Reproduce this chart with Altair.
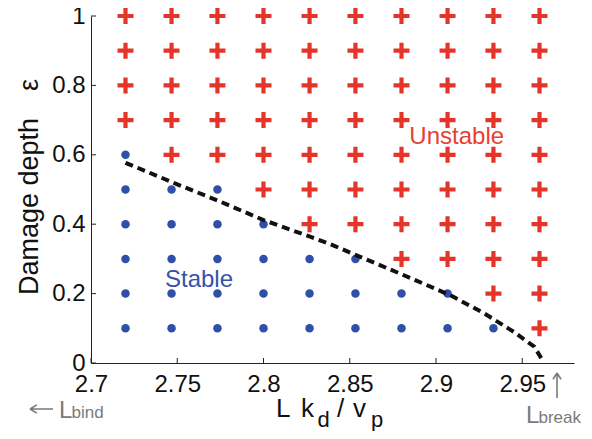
import altair as alt
import pandas as pd

# ---- data ----
col_x = [2.72, 2.7467, 2.7733, 2.80, 2.8267, 2.8533, 2.88, 2.9067, 2.9333, 2.96]
row_eps = [0.1, 0.2, 0.3, 0.4, 0.5, 0.6, 0.7, 0.8, 0.9, 1.0]
stable_count = [9, 8, 6, 4, 3, 1, 0, 0, 0, 0]   # leading stable columns per row

boundary_x = [2.72, 2.75, 2.774, 2.80, 2.827, 2.839, 2.856, 2.879, 2.908, 2.928, 2.945, 2.957, 2.961]
boundary_y = [0.577, 0.515, 0.467, 0.412, 0.364, 0.342, 0.306, 0.258, 0.196, 0.143, 0.090, 0.047, 0.014]

x_ticks = [2.7, 2.75, 2.8, 2.85, 2.9, 2.95]
y_ticks = [0, 0.2, 0.4, 0.6, 0.8, 1.0]

region_labels = ["Unstable", "Stable"]
region_x = [2.912, 2.7626]
region_y = [0.63, 0.22]

RED = "#e5352b"
BLUE = "#2f4fa9"
GRAY = "#7a7a7a"
FONT = "Liberation Sans, Arial, Helvetica, DejaVu Sans"
W, H = 483, 347

rows = []
for i, e in enumerate(row_eps):
    for j, x in enumerate(col_x):
        rows.append({"x": x, "eps": e, "state": "Stable" if j < stable_count[i] else "Unstable"})
grid = pd.DataFrame(rows)
bnd = pd.DataFrame({"x": boundary_x, "eps": boundary_y})
lab = pd.DataFrame({"x": region_x, "eps": region_y, "label": region_labels,
                    "state": ["Unstable", "Stable"]})
xt = pd.DataFrame({"x": x_ticks})
yt = pd.DataFrame({"eps": y_ticks})

xscale = alt.Scale(domain=[2.7, 2.98], nice=False, zero=False)
yscale = alt.Scale(domain=[0, 1], nice=False, zero=False)

xaxis = alt.Axis(values=x_ticks, format="~g", title=None, ticks=False, tickSize=0,
                 labelPadding=9, grid=False, domainColor="#222", domainWidth=1,
                 labelFontSize=24, labelFont=FONT, labelColor="#111", labelFlush=False)
yaxis = alt.Axis(values=y_ticks, format="~g", title="Damage depth\u2003\u03b5", ticks=False, tickSize=0,
                 labelPadding=6, grid=False, domainColor="#222", domainWidth=1,
                 labelFontSize=24, labelFont=FONT, labelColor="#111", labelFlush=False,
                 titleFont=FONT, titleFontSize=27, titleFontWeight="normal", titleColor="#111",
                 titleX=-54, titleY=H / 2 - 3, titleBaseline="alphabetic", titleAngle=270,
                 titleAlign="center")

X = alt.X("x:Q", scale=xscale, axis=xaxis)
Y = alt.Y("eps:Q", scale=yscale, axis=yaxis)

stable = alt.Chart(grid).transform_filter("datum.state == 'Stable'").mark_point(
    shape="circle", filled=True, size=72, color=BLUE, opacity=1, strokeWidth=0
).encode(x=X, y=Y)

unstable = alt.Chart(grid).transform_filter("datum.state == 'Unstable'").mark_point(
    shape="M-1,0L1,0M0,-1L0,1", filled=False, stroke=RED, strokeWidth=4.2, size=256, opacity=1
).encode(x=X, y=Y)

line = alt.Chart(bnd).mark_line(color="#111", strokeWidth=4, strokeDash=[8, 5]).encode(
    x=alt.X("x:Q", scale=xscale), y=alt.Y("eps:Q", scale=yscale))

labels = alt.Chart(lab).mark_text(fontSize=24, font=FONT, align="center", baseline="alphabetic").encode(
    x=alt.X("x:Q", scale=xscale), y=alt.Y("eps:Q", scale=yscale), text="label:N",
    color=alt.Color("state:N", scale=alt.Scale(domain=["Unstable", "Stable"], range=["#e8402f", "#3552ad"]),
                    legend=None))

xtick_rules = alt.Chart(xt).mark_rule(color="#222", strokeWidth=1).encode(
    x=alt.X("x:Q", scale=xscale), y=alt.value(H), y2=alt.value(H - 5))
ytick_rules = alt.Chart(yt).mark_rule(color="#222", strokeWidth=1).encode(
    y=alt.Y("eps:Q", scale=yscale), x=alt.value(0), x2=alt.value(5))

def txt(s, x, y, size, color="#111", align="left"):
    return alt.Chart(pd.DataFrame({"t": [s]})).mark_text(
        fontSize=size, font=FONT, color=color, align=align, baseline="alphabetic"
    ).encode(x=alt.value(x), y=alt.value(y), text="t:N")

def arrow(path, x, y, size):
    return alt.Chart(pd.DataFrame({"t": [0]})).mark_point(
        shape=path, filled=False, stroke=GRAY, strokeWidth=1.6, size=size, opacity=1
    ).encode(x=alt.value(x), y=alt.value(y))

xtitle = [
    txt("L", 185, 401, 26),
    txt("k", 210, 401, 26),
    txt("d", 226.5, 411, 22),
    txt("/", 246, 401, 26),
    txt("v", 262, 401, 26),
    txt("p", 280, 411, 22),
]
annots = [
    arrow("M-1,0L1,0M-1,0L-0.4,-0.36M-1,0L-0.4,0.36", -49.5, 393, 529),
    txt("L", -32, 402, 24, GRAY),
    txt("bind", -19.5, 402, 17, GRAY),
    arrow("M0,1L0,-1M0,-1L-0.32,-0.5M0,-1L0.32,-0.5", 466, 369.5, 625),
    txt("L", 435, 407, 24, GRAY),
    txt("break", 447.5, 407, 17, GRAY),
]

chart = alt.layer(stable, unstable, line, labels, xtick_rules, ytick_rules, *xtitle, *annots).properties(
    width=W, height=H,
    autosize=alt.AutoSizeParams(type="none"),
    padding={"left": 83, "top": 8, "right": 10, "bottom": 68},
).configure_view(stroke=None)

chart.save("out.html", embed_options={"renderer": "svg", "actions": False})
